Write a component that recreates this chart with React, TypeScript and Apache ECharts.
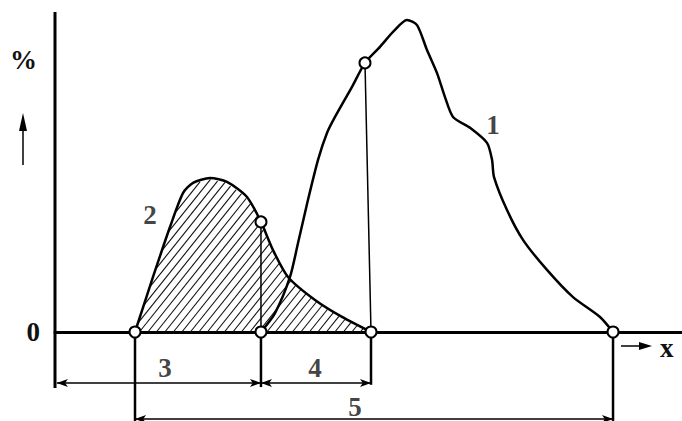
import React, { useEffect, useRef } from "react";
import * as echarts from "echarts";

// Curve 1 (distribution 1)
const curve1X = [32.85, 35.09, 37.48, 38.76, 40.35, 41.95, 43.38, 44.66, 47.37, 49.44, 51.83, 53.91, 56.14, 57.74, 59.33, 60.93, 62.2, 63.48, 66.19, 68.9, 69.7, 70.02, 72.09, 74.64, 78.47, 82.62, 86.92, 89.0];
const curve1Y = [0, 5.9, 17.2, 27.8, 41.3, 53.8, 62.2, 67.2, 76.6, 84.1, 89.1, 93.8, 97.5, 95.9, 88.1, 80.9, 73.4, 67.2, 63.8, 59.1, 53.8, 48.4, 38.1, 28.8, 19.4, 10.9, 4.7, 0];

// Curve 2 (hatched distribution 2)
const curve2X = [12.76, 15.63, 18.34, 20.41, 22.01, 24.72, 27.43, 30.62, 32.85, 34.77, 37.16, 41.47, 45.77, 50.4];
const curve2Y = [0, 17.2, 32.8, 43.4, 46.6, 48.1, 46.9, 42.2, 34.4, 25.6, 17.2, 10.0, 4.7, 0];

// Circle markers
const markerX = [12.76, 32.85, 50.4, 89.0, 32.85, 49.44];
const markerY = [0, 0, 0, 0, 34.4, 84.1];

// Thin drop lines from curves to axis
const dropFromX = [32.85, 49.44];
const dropFromY = [34.4, 84.1];
const dropToX = [32.85, 50.4];

// Vertical axis extent
const yAxisTop = 100;
const yAxisBottom = -17.5;

// Stems below the x axis
const stemX = [12.76, 32.85, 50.4, 89.0];
const stemBottom = [-27.8, -17.2, -16.5, -27.8];

// Dimension lines
const dimStart = [0.3, 32.85, 12.76];
const dimEnd = [32.85, 50.4, 89.0];
const dimY = [-15.9, -15.9, -27.2];

// Labels
const labelText = ["1", "2", "3", "4", "5"];
const labelX = [69.86, 15.15, 17.54, 41.47, 47.85];
const labelY = [64.7, 36.6, -11.25, -11.25, -23.4];

const FONT = "Liberation Serif";

export default function App() {
  const ref = useRef<HTMLDivElement>(null);
  useEffect(() => {
    if (!ref.current) return;
    const chart = echarts.init(ref.current, null, { renderer: "svg" });
    const series: any[] = [];

    // hatch
    series.push({
      type: "custom",
      coordinateSystem: "cartesian2d",
      clip: false,
      silent: true,
      z: 1,
      data: [[0, 0]],
      renderItem: (params: any, api: any) => {
        const pts = curve2X.map((x, i) => api.coord([x, curve2Y[i]]));
        const base = api.coord([0, 0])[1];
        const x0 = pts[0][0];
        const x1 = pts[pts.length - 1][0];
        const curvePy = (px: number) => {
          for (let i = 0; i < pts.length - 1; i++) {
            const a = pts[i], b = pts[i + 1];
            if (px >= a[0] && px <= b[0]) {
              const t = b[0] === a[0] ? 0 : (px - a[0]) / (b[0] - a[0]);
              return a[1] + t * (b[1] - a[1]);
            }
          }
          return base;
        };
        const slope = 1.25;
        const gap = 8.5;
        const topY = Math.min(...pts.map((p: number[]) => p[1]));
        const height = base - topY;
        const children: any[] = [];
        const push = (sx: number, sy: number, ex: number, ey: number) => {
          if (Math.hypot(ex - sx, ey - sy) < 1) return;
          children.push({
            type: "line",
            shape: { x1: sx, y1: sy, x2: ex, y2: ey },
            style: { stroke: "#111", lineWidth: 1.1 },
          });
        };
        for (let c = x0 - height / slope; c < x1; c += gap) {
          let inside = false;
          let sx = 0, sy = 0;
          let px = Math.max(c, x0);
          let last = px;
          for (; px <= x1; px += 0.5) {
            const py = base - slope * (px - c);
            const ok = py >= curvePy(px) + 0.8 && py <= base + 0.01;
            if (ok && !inside) { inside = true; sx = px; sy = py; }
            if (!ok && inside) {
              inside = false;
              push(sx, sy, last, base - slope * (last - c));
            }
            last = px;
          }
          if (inside) push(sx, sy, last, base - slope * (last - c));
        }
        return { type: "group", children };
      },
    });

    // vertical axis line
    series.push({
      type: "line",
      data: [[0, yAxisTop], [0, yAxisBottom]],
      showSymbol: false,
      lineStyle: { color: "#000", width: 3 },
      z: 2,
    });

    series.push({
      type: "line",
      data: curve1X.map((x, i) => [x, curve1Y[i]]),
      smooth: 0.25,
      showSymbol: false,
      lineStyle: { color: "#000", width: 2.5 },
      z: 3,
    });
    series.push({
      type: "line",
      data: curve2X.map((x, i) => [x, curve2Y[i]]),
      smooth: 0.25,
      showSymbol: false,
      lineStyle: { color: "#000", width: 2.5 },
      z: 3,
    });

    dropFromX.forEach((x, i) => {
      series.push({
        type: "line",
        data: [[x, dropFromY[i]], [dropToX[i], 0]],
        showSymbol: false,
        lineStyle: { color: "#000", width: 1.5 },
        z: 2,
      });
    });

    stemX.forEach((x, i) => {
      series.push({
        type: "line",
        clip: false,
        data: [[x, 0], [x, stemBottom[i]]],
        showSymbol: false,
        lineStyle: { color: "#000", width: 2.5 },
        z: 2,
      });
    });

    series.push({
      type: "line",
      clip: false,
      data: [],
      markLine: {
        silent: true,
        symbol: ["arrow", "arrow"],
        symbolSize: [6, 11],
        label: { show: false },
        lineStyle: { type: "solid", color: "#000", width: 1.5 },
        data: dimStart.map((s, i) => [
          { coord: [s, dimY[i]] },
          { coord: [dimEnd[i], dimY[i]] },
        ]),
      },
    });

    series.push({
      type: "scatter",
      data: markerX.map((x, i) => [x, markerY[i]]),
      symbol: "circle",
      symbolSize: 11,
      itemStyle: { color: "#fff", borderColor: "#000", borderWidth: 2, opacity: 1 },
      z: 5,
    });

    series.push({
      type: "scatter",
      clip: false,
      silent: true,
      data: labelText.map((t, i) => ({ name: t, value: [labelX[i], labelY[i]] })),
      symbolSize: 0,
      label: {
        show: true,
        position: "inside",
        formatter: (p: any) => p.name,
        fontFamily: FONT,
        fontWeight: "bold",
        fontSize: 27,
        color: "#111",
      },
      z: 6,
    });

    chart.setOption({
      animation: false,
      backgroundColor: "#fff",
      grid: { left: 55, right: 0, top: 12, bottom: 0 },
      xAxis: {
        type: "value",
        min: 0,
        max: 100,
        axisLine: { show: true, onZero: true, lineStyle: { color: "#000", width: 3 } },
        axisTick: { show: false },
        axisLabel: { show: false },
        splitLine: { show: false },
      },
      yAxis: {
        type: "value",
        min: -27.8125,
        max: 100,
        axisLine: { show: false },
        axisTick: { show: false },
        splitLine: { show: false },
        axisLabel: {
          show: true,
          customValues: [0],
          formatter: (v: number) => (v === 0 ? "0" : ""),
          margin: 15,
          fontFamily: FONT,
          fontWeight: "bold",
          fontSize: 27,
          color: "#111",
        },
      },
      graphic: [
        {
          type: "text",
          left: 10,
          top: 46,
          style: { text: "%", fontFamily: FONT, fontWeight: "bold", fontSize: 27, fill: "#111" },
        },
        { type: "line", shape: { x1: 23, y1: 165, x2: 23, y2: 126 }, style: { stroke: "#000", lineWidth: 1.5 } },
        { type: "polygon", shape: { points: [[23, 113], [19, 131], [27, 131]] }, style: { fill: "#000" } },
        { type: "line", shape: { x1: 621, y1: 346, x2: 641, y2: 346 }, style: { stroke: "#000", lineWidth: 1.5 } },
        { type: "polygon", shape: { points: [[652, 346], [639, 342], [639, 350]] }, style: { fill: "#000" } },
        {
          type: "text",
          left: 660,
          top: 334,
          style: { text: "x", fontFamily: FONT, fontWeight: "bold", fontSize: 27, fill: "#111" },
        },
      ],
      series,
    });
    return () => chart.dispose();
  }, []);
  return (
    <div
      ref={ref}
      style={{ position: "fixed", left: 0, top: 0, width: 682, height: 421, background: "#fff" }}
    />
  );
}
